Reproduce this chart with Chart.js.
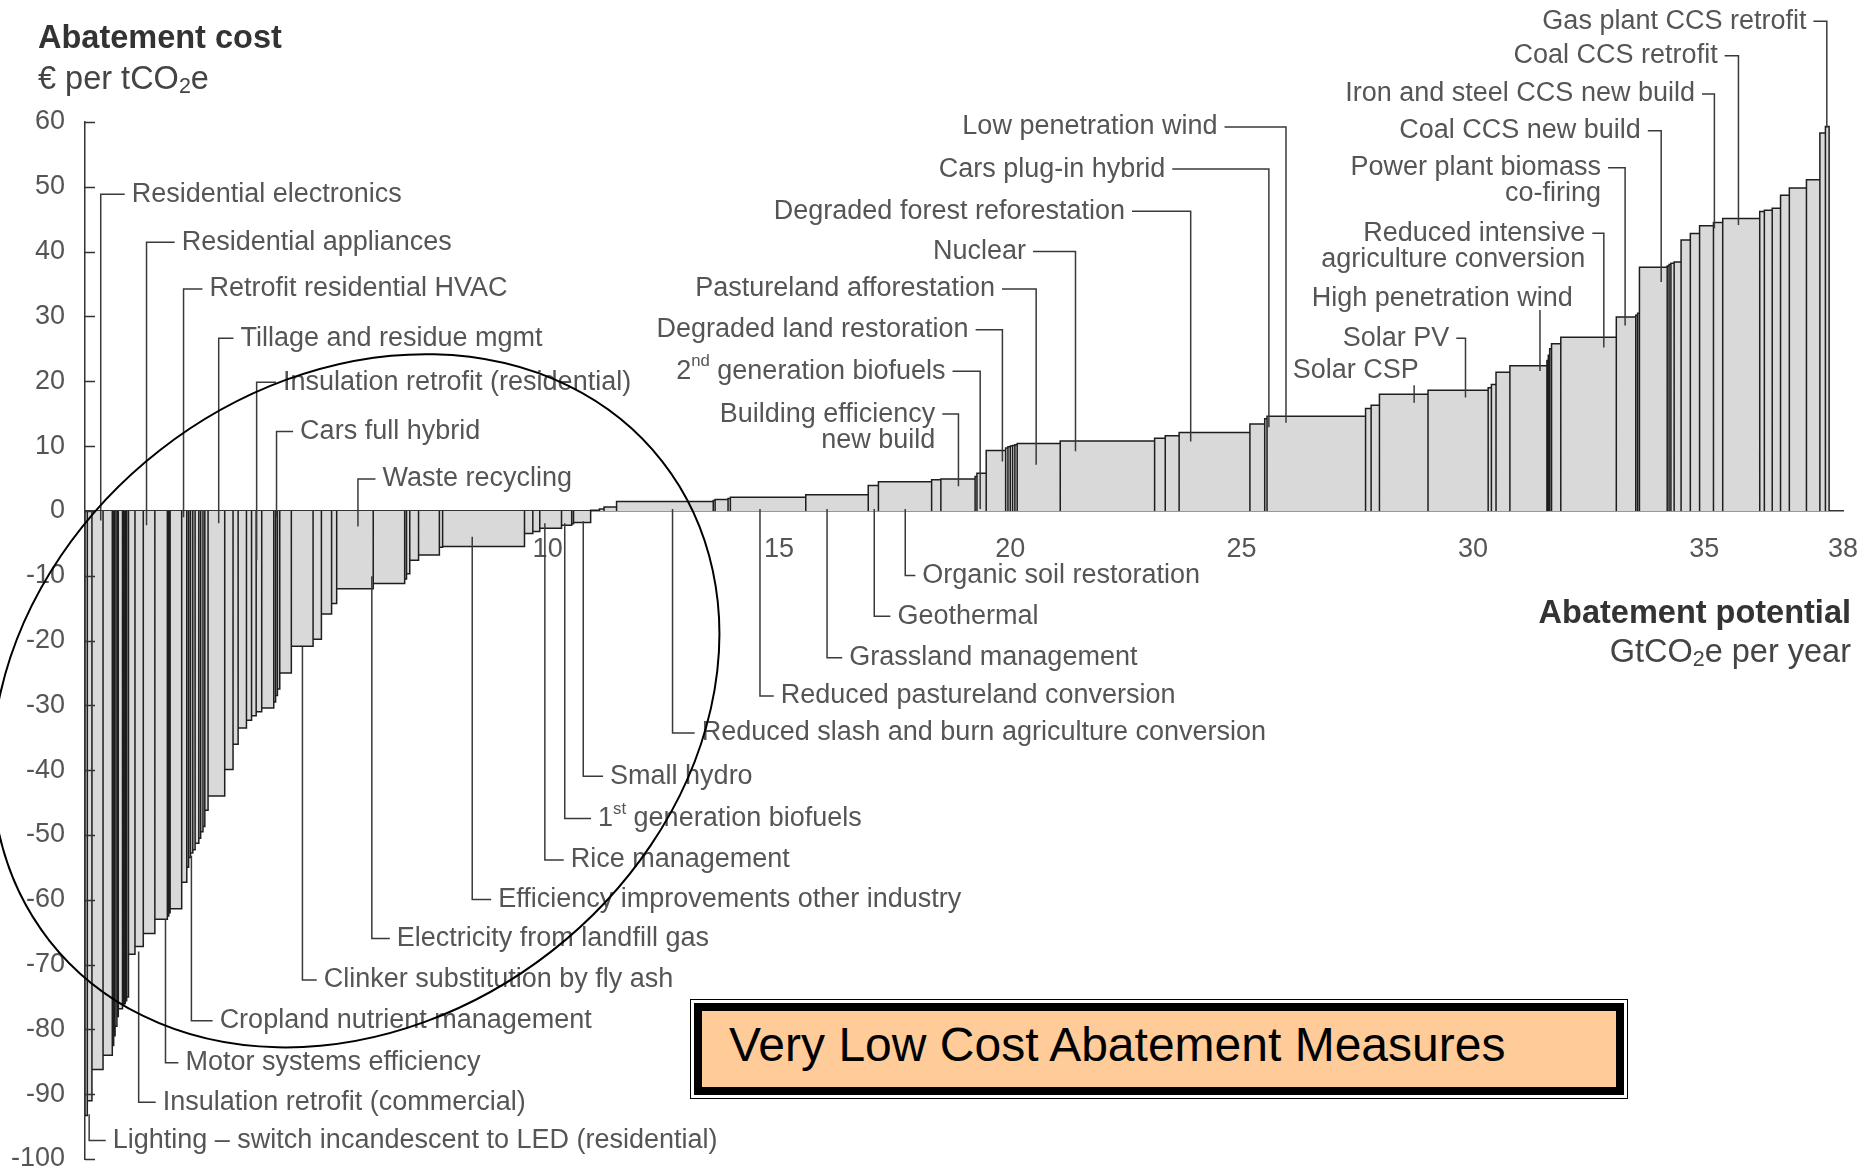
<!DOCTYPE html>
<html>
<head>
<meta charset="utf-8">
<title>Abatement cost curve</title>
<script src="https://cdn.jsdelivr.net/npm/chart.js@4.4.1/dist/chart.umd.min.js"></script>
<style>
  body { margin: 0; background: #fff; }
  #wrap { position: relative; width: 1860px; height: 1171px; overflow: hidden; }
  #curve { position: absolute; left: 0; top: 0; }
  .callout {
    position: absolute; left: 690px; top: 999px; width: 938px; height: 100px;
    box-sizing: border-box; border: 1px solid #000; padding: 3px; background: #fff;
  }
  .callout-inner {
    box-sizing: border-box; height: 100%; border: 8px solid #000; background: #ffcc99;
    font: 48px "Liberation Sans", Arial, sans-serif; color: #000;
    line-height: 68px; padding-left: 27px; white-space: nowrap;
  }
</style>
</head>
<body>
<div id="wrap">
  <canvas id="curve" width="1860" height="1171"></canvas>
  <div class="callout"><div class="callout-inner">Very Low Cost Abatement Measures</div></div>
</div>
<script>
// === DATA (left to right) ===

// abatement potential of each measure, GtCO2e per year (bar widths)
const potentialWidths = [
  0.05, 0.10, 0.24, 0.20, 0.03, 0.03, 0.04, 0.03, 0.09, 0.03, 0.03, 0.03, 0.04,
  0.14, 0.18, 0.25, 0.27, 0.03, 0.03, 0.25, 0.11, 0.04, 0.04, 0.05, 0.05, 0.08,
  0.04, 0.05, 0.04, 0.07, 0.36, 0.18, 0.11, 0.18, 0.11, 0.10, 0.12, 0.26, 0.04,
  0.04, 0.05, 0.25, 0.47, 0.18, 0.22, 0.11, 0.79, 0.68, 0.04, 0.07, 0.19, 0.45,
  0.07, 1.77, 0.18, 0.15, 0.47, 0.22, 0.04, 0.37, 0.19, 0.10, 0.27, 2.09, 0.04,
  0.28, 0.05, 1.63, 1.35, 0.22, 1.15, 0.20, 0.74, 0.04, 0.20, 0.42, 0.05, 0.05,
  0.05, 0.05, 0.05, 0.93, 2.04, 0.23, 0.30, 1.53, 0.32, 0.05, 2.13, 0.12, 0.18,
  1.05, 1.30, 0.07, 0.10, 0.30, 0.80, 0.03, 0.03, 0.04, 0.20, 1.20, 0.42, 0.04,
  0.04, 0.60, 0.04, 0.04, 0.07, 0.15, 0.20, 0.20, 0.30, 0.20, 0.80, 0.10, 0.17,
  0.18, 0.19, 0.37, 0.29, 0.12, 0.08
];

// abatement cost of each measure, EUR per tCO2e (bar heights)
const abatementCosts = [
  -93.3, -91, -86.2, -84, -82.5, -81, -79.5, -78, -76.8, -76.3, -76, -75.6, -75,
  -68.4, -67.2, -65.2, -63, -62.5, -62, -61.4, -57.3, -55, -53.5, -52.8, -52.3, -51.3,
  -50.5, -49.5, -48.7, -46.2, -44, -39.9, -36, -33.5, -32.3, -31.6, -31, -30.4, -29.5,
  -28.5, -27.5, -25, -20.9, -19.8, -15.9, -14.3, -12, -11.2, -10.5, -9.7, -7.6, -6.8,
  -5.6, -5.5, -3.5, -3.2, -2.7, -2.2, -2, -1.8, 0.1, 0.3, 0.6, 1.45, 1.6,
  1.75, 1.9, 2.1, 2.5, 3.9, 4.5, 4.8, 4.9, 5.3, 5.8, 9.3, 9.7, 9.9,
  10.0, 10.1, 10.2, 10.4, 10.8, 11.2, 11.6, 12.1, 13.4, 14.2, 14.6, 15.8, 16.3,
  18.0, 18.6, 19.0, 19.5, 21.4, 22.4, 23.2, 24.0, 25.0, 25.8, 26.8, 29.9, 30.2,
  30.5, 37.6, 37.8, 38.0, 38.2, 38.4, 41.8, 42.8, 44.0, 44.5, 45.1, 46.2, 46.4,
  46.7, 48.7, 49.8, 51.1, 58.3, 59.3
];

const xTickValues = [5, 10, 15, 20, 25, 30, 35, 38];

const measureLabels = [
  'Residential electronics',
  'Residential appliances',
  'Retrofit residential HVAC',
  'Tillage and residue mgmt',
  'Insulation retrofit (residential)',
  'Cars full hybrid',
  'Waste recycling',
  'Lighting \u2013 switch incandescent to LED (residential)',
  'Insulation retrofit (commercial)',
  'Motor systems efficiency',
  'Cropland nutrient management',
  'Clinker substitution by fly ash',
  'Electricity from landfill gas',
  'Efficiency improvements other industry',
  'Rice management',
  '1^{st} generation biofuels',
  'Small hydro',
  'Reduced slash and burn agriculture conversion',
  'Reduced pastureland conversion',
  'Grassland management',
  'Geothermal',
  'Organic soil restoration',
  'Building efficiency\nnew build',
  '2^{nd} generation biofuels',
  'Degraded land restoration',
  'Pastureland afforestation',
  'Nuclear',
  'Degraded forest reforestation',
  'Cars plug-in hybrid',
  'Low penetration wind',
  'Solar CSP',
  'Solar PV',
  'High penetration wind',
  'Reduced intensive\nagriculture conversion',
  'Power plant biomass\nco-firing',
  'Coal CCS new build',
  'Iron and steel CCS new build',
  'Coal CCS retrofit',
  'Gas plant CCS retrofit'
];

// === LABEL PLACEMENT (axis units) ===
// kind L: leader left of text, runs left then down to the bar
// kind B: leader drops from the bar, then runs right to the text
// kind R: leader right of text, runs right then down to the bar
// kind V: short vertical leader below the text
const labelLayout = [
  { kind: 'L', tx: 1.01, ty: 49.3, lx: 0.34, ly: -1.5 },
  { kind: 'L', tx: 2.09, ty: 41.9, lx: 1.33, ly: -2.2 },
  { kind: 'L', tx: 2.69, ty: 34.7, lx: 2.13, ly: -1 },
  { kind: 'L', tx: 3.36, ty: 27.1, lx: 2.89, ly: -1.9 },
  { kind: 'L', tx: 4.28, ty: 20.3, lx: 3.71, ly: -7.6 },
  { kind: 'L', tx: 4.65, ty: 12.7, lx: 4.14, ly: -1 },
  { kind: 'L', tx: 6.43, ty: 5.4, lx: 5.9, ly: -2.4 },
  { kind: 'B', tx: 0.6, ty: -96.7, lx: 0.09, ly: -93.1 },
  { kind: 'B', tx: 1.68, ty: -90.8, lx: 1.16, ly: -68 },
  { kind: 'B', tx: 2.17, ty: -84.7, lx: 1.74, ly: -63 },
  { kind: 'B', tx: 2.91, ty: -78.2, lx: 2.3, ly: -53.2 },
  { kind: 'B', tx: 5.16, ty: -71.9, lx: 4.7, ly: -21 },
  { kind: 'B', tx: 6.74, ty: -65.5, lx: 6.2, ly: -10.1 },
  { kind: 'B', tx: 8.93, ty: -59.5, lx: 8.37, ly: -4.0 },
  { kind: 'B', tx: 10.5, ty: -53.4, lx: 9.94, ly: -1.9 },
  { kind: 'B', tx: 11.09, ty: -47.0, lx: 10.37, ly: -1.9 },
  { kind: 'B', tx: 11.35, ty: -40.5, lx: 10.77, ly: -1.6 },
  { kind: 'B', tx: 13.33, ty: -33.8, lx: 12.7, ly: 0.3 },
  { kind: 'B', tx: 15.04, ty: -28.1, lx: 14.59, ly: 0.3 },
  { kind: 'B', tx: 16.52, ty: -22.2, lx: 16.04, ly: 0.3 },
  { kind: 'B', tx: 17.56, ty: -15.8, lx: 17.06, ly: 0.3 },
  { kind: 'B', tx: 18.1, ty: -9.5, lx: 17.73, ly: 0.3 },
  { kind: 'R', tx: 18.38, ty: 15.4, lx: 18.88, ly: 3.8 },
  { kind: 'R', tx: 18.6, ty: 22.0, lx: 19.35, ly: 0.3 },
  { kind: 'R', tx: 19.1, ty: 28.4, lx: 19.83, ly: 7.6 },
  { kind: 'R', tx: 19.67, ty: 34.7, lx: 20.56, ly: 7.1 },
  { kind: 'R', tx: 20.34, ty: 40.5, lx: 21.41, ly: 9.2 },
  { kind: 'R', tx: 22.48, ty: 46.7, lx: 23.9, ly: 10.7 },
  { kind: 'R', tx: 23.35, ty: 53.2, lx: 25.59, ly: 12.9 },
  { kind: 'R', tx: 24.48, ty: 59.7, lx: 25.96, ly: 13.6 },
  { kind: 'V', tx: 28.83, ty: 22.1, lx: 28.73, ly0: 19.4, ly: 16.7 },
  { kind: 'R', tx: 29.49, ty: 27.1, lx: 29.84, ly: 17.5 },
  { kind: 'V', tx: 32.16, ty: 33.2, lx: 31.45, ly0: 31.0, ly: 21.6 },
  { kind: 'R', tx: 32.43, ty: 43.3, lx: 32.83, ly: 25.2 },
  { kind: 'R', tx: 32.77, ty: 53.4, lx: 33.29, ly: 28.6 },
  { kind: 'R', tx: 33.63, ty: 59.1, lx: 34.07, ly: 35.3 },
  { kind: 'R', tx: 34.8, ty: 64.8, lx: 35.22, ly: 43.6 },
  { kind: 'R', tx: 35.29, ty: 70.7, lx: 35.74, ly: 44.1 },
  { kind: 'R', tx: 37.21, ty: 76.0, lx: 37.65, ly: 59.1 }
];

// ring round the negative-cost measures (centre in axis units, radii in px)
const RING = { cx: 5.85, cy: -29.3, rx: 389, ry: 318, tilt: -38 };

const FONT = '"Liberation Sans", Arial, sans-serif';
const TEXT_GREY = '#555';
const LINE_DARK = '#333';
const GAP = 7;
const LINE_H = 26;
const NUDGE = 3;   // canvas 'middle' sits a little high against the scan

// trace every bar as a closed step: up from the axis, across, and back down
function buildOutline() {
  const pts = [];
  let x0 = 0;
  potentialWidths.forEach((w, i) => {
    const x1 = +(x0 + w).toFixed(3);
    const c = abatementCosts[i];
    pts.push({ x: x0, y: 0 }, { x: x0, y: c }, { x: x1, y: c }, { x: x1, y: 0 });
    x0 = x1;
  });
  return pts;
}

// draws text with ^{sup} and _{sub} runs
function drawRich(ctx, str, x, y, align, size) {
  const runs = [];
  const re = /\^\{([^}]*)\}|_\{([^}]*)\}|([^^_]+)/g;
  let m;
  while ((m = re.exec(str))) {
    if (m[1] !== undefined) runs.push({ t: m[1], dy: -size * 0.35, s: size * 0.62 });
    else if (m[2] !== undefined) runs.push({ t: m[2], dy: size * 0.22, s: size * 0.66 });
    else runs.push({ t: m[3], dy: 0, s: size });
  }
  const base = ctx.font.replace(/\d+(\.\d+)?px/, '');
  let total = 0;
  runs.forEach(r => {
    ctx.font = r.s + 'px' + base;
    r.w = ctx.measureText(r.t).width;
    total += r.w;
  });
  let cx = align === 'right' ? x - total : x;
  ctx.textAlign = 'left';
  runs.forEach(r => {
    ctx.font = r.s + 'px' + base;
    ctx.fillText(r.t, cx, y + r.dy);
    cx += r.w;
  });
  ctx.font = size + 'px' + base;
}

function drawNote(ctx, sx, sy, text, lay) {
  const tx = sx.getPixelForValue(lay.tx);
  const ty = sy.getPixelForValue(lay.ty) + NUDGE;
  const lx = sx.getPixelForValue(lay.lx);
  const ly = sy.getPixelForValue(lay.ly);

  ctx.beginPath();
  if (lay.kind === 'L') {
    ctx.moveTo(tx - GAP, ty); ctx.lineTo(lx, ty); ctx.lineTo(lx, ly);
  } else if (lay.kind === 'B') {
    ctx.moveTo(lx, ly); ctx.lineTo(lx, ty); ctx.lineTo(tx - GAP, ty);
  } else if (lay.kind === 'R') {
    ctx.moveTo(tx + GAP, ty); ctx.lineTo(lx, ty); ctx.lineTo(lx, ly);
  } else {
    ctx.moveTo(lx, sy.getPixelForValue(lay.ly0)); ctx.lineTo(lx, ly);
  }
  ctx.stroke();

  const align = (lay.kind === 'L' || lay.kind === 'B') ? 'left' : 'right';
  text.split('\n').forEach((line, i) => {
    drawRich(ctx, line, tx, ty + i * LINE_H, align, 27);
  });
}

const decorPlugin = {
  id: 'decor',
  afterDraw(chart) {
    const { ctx, scales: { x: sx, y: sy } } = chart;
    ctx.save();

    // y ticks point inwards from the axis
    ctx.strokeStyle = LINE_DARK;
    ctx.lineWidth = 1.5;
    ctx.beginPath();
    sy.ticks.forEach(t => {
      const py = Math.round(sy.getPixelForValue(t.value)) + 0.5;
      ctx.moveTo(sx.left, py); ctx.lineTo(sx.left + 10, py);
    });
    ctx.stroke();

    // axis titles
    ctx.fillStyle = '#333';
    ctx.textBaseline = 'middle';
    ctx.font = 'bold 32.5px ' + FONT;
    ctx.textAlign = 'left';
    ctx.fillText('Abatement cost', 38, 39);
    ctx.textAlign = 'right';
    ctx.fillText('Abatement potential', 1851, 614);
    ctx.fillStyle = '#444';
    ctx.font = '32.5px ' + FONT;
    drawRich(ctx, '\u20ac per tCO_{2}e', 38, 80, 'left', 32.5);
    drawRich(ctx, 'GtCO_{2}e per year', 1851, 653, 'right', 32.5);

    // measure callouts
    ctx.fillStyle = TEXT_GREY;
    ctx.strokeStyle = '#3a3a3a';
    ctx.lineWidth = 1.5;
    ctx.font = '27px ' + FONT;
    measureLabels.forEach((name, i) => drawNote(ctx, sx, sy, name, labelLayout[i]));

    // ring
    ctx.strokeStyle = '#000';
    ctx.lineWidth = 2;
    ctx.beginPath();
    ctx.ellipse(sx.getPixelForValue(RING.cx), sy.getPixelForValue(RING.cy),
      RING.rx, RING.ry, RING.tilt * Math.PI / 180, 0, Math.PI * 2);
    ctx.stroke();

    ctx.restore();
  }
};

Chart.defaults.font.family = FONT;
Chart.defaults.color = TEXT_GREY;

new Chart(document.getElementById('curve'), {
  type: 'line',
  data: {
    datasets: [{
      data: buildOutline(),
      fill: 'origin',
      backgroundColor: '#d9d9d9',
      borderColor: '#1e1e1e',
      borderWidth: 1.5,
      pointRadius: 0,
      pointHitRadius: 0,
      tension: 0
    }]
  },
  options: {
    responsive: false,
    animation: false,
    devicePixelRatio: 1,
    layout: { padding: { top: 122, right: 17, bottom: 12, left: 0 } },
    plugins: { legend: { display: false }, tooltip: { enabled: false } },
    scales: {
      x: {
        type: 'linear',
        min: 0,
        max: 38,
        position: { y: 0 },
        grid: { display: false },
        border: { display: true, color: LINE_DARK, width: 1.5 },
        afterBuildTicks: s => { s.ticks = xTickValues.map(value => ({ value })); },
        // the axis sits on y = 0, so it must not take room from the plot
        afterFit: s => { s.height = 0; s.paddingLeft = 0; s.paddingRight = 0; },
        ticks: { autoSkip: false, maxRotation: 0, padding: 14, font: { size: 27 }, color: TEXT_GREY }
      },
      y: {
        min: -100,
        max: 60,
        grid: { display: false },
        border: { display: true, color: LINE_DARK, width: 1.5 },
        afterFit: s => { s.width = 85; s.paddingTop = 0; s.paddingBottom = 0; },
        ticks: { stepSize: 10, padding: 12, font: { size: 27 }, color: TEXT_GREY }
      }
    }
  },
  plugins: [decorPlugin]
});
</script>
</body>
</html>
